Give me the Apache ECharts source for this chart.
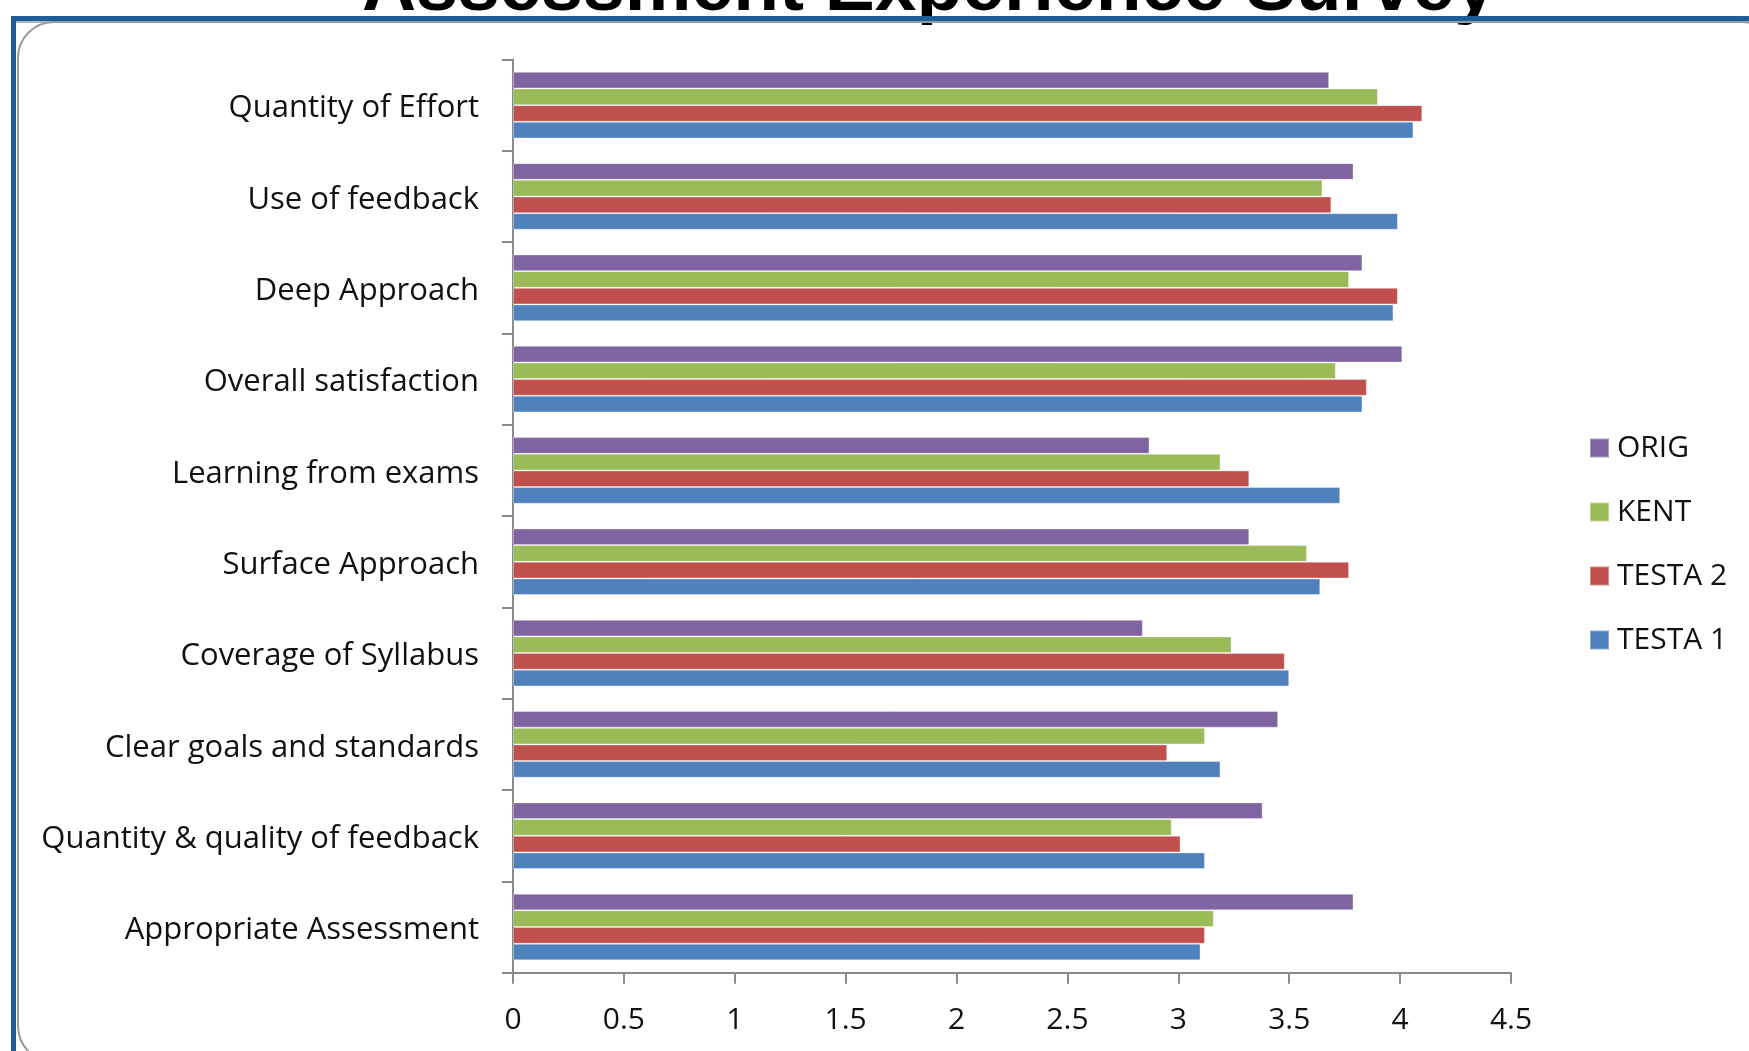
<!DOCTYPE html>
<html lang="en">
  <head>
    <meta charset="UTF-8" />
    <script src="https://cdn.jsdelivr.net/npm/echarts@6/dist/echarts.min.js"></script>
    <title>Assessment Experience Survey</title>
    <style>
      html, body { margin: 0; padding: 0; background: #fff; }
      #chart { width: 1749px; height: 1051px; }
    </style>
  </head>
  <body>
    <div id="chart"></div>
    <script>
      // categories, top to bottom
      const categories = [
        "Quantity of Effort",
        "Use of feedback",
        "Deep Approach",
        "Overall satisfaction",
        "Learning from exams",
        "Surface Approach",
        "Coverage of Syllabus",
        "Clear goals and standards",
        "Quantity & quality of feedback",
        "Appropriate Assessment"
      ];
      const orig   = [3.68, 3.79, 3.83, 4.01, 2.87, 3.32, 2.84, 3.45, 3.38, 3.79];
      const kent   = [3.90, 3.65, 3.77, 3.71, 3.19, 3.58, 3.24, 3.12, 2.97, 3.16];
      const testa2 = [4.10, 3.69, 3.99, 3.85, 3.32, 3.77, 3.48, 2.95, 3.01, 3.12];
      const testa1 = [4.06, 3.99, 3.97, 3.83, 3.73, 3.64, 3.50, 3.19, 3.12, 3.10];
      const seriesNames = ["ORIG", "KENT", "TESTA 2", "TESTA 1"];
      const seriesColors = ["#8064A2", "#9BBB59", "#C0504D", "#4F81BD"];

      const labelFont = "'Open Sans', sans-serif";
      const myChart = echarts.init(document.getElementById("chart"));

      function barSeries(name, data, color) {
        return {
          name: name,
          type: "bar",
          data: data,
          barGap: "0%",
          barCategoryGap: "27%",
          itemStyle: { color: color, borderColor: "rgba(255,255,255,0.35)", borderWidth: 1 },
          emphasis: { disabled: true }
        };
      }

      const option = {
        animation: false,
        backgroundColor: "#fff",
        color: seriesColors,
        graphic: [
          // slide frame
          { type: "rect", shape: { x: 11, y: 16, width: 1760, height: 5 }, style: { fill: "#1F5C9C" } },
          { type: "rect", shape: { x: 11, y: 16, width: 5, height: 1060 }, style: { fill: "#1F5C9C" } },
          { type: "rect", shape: { x: 16, y: 21, width: 1760, height: 2 }, style: { fill: "#b5b5b5" } },
          { type: "rect", shape: { x: 18, y: 22, width: 1760, height: 1040, r: 36 },
            style: { fill: "none", stroke: "#9a9a9a", lineWidth: 2 } },
          // title, cut off by the top of the picture
          { type: "text", x: 929, y: -11, z: -1,
            style: { text: "Assessment Experience Survey", fill: "#000",
              font: "bold 75px 'Liberation Sans', Arial, sans-serif",
              textAlign: "center", textVerticalAlign: "middle" } }
        ],
        legend: {
          orient: "vertical",
          left: 1584,
          top: 428,
          itemWidth: 19,
          itemHeight: 19,
          itemGap: 34,
          icon: "rect",
          data: seriesNames,
          textStyle: { fontFamily: labelFont, fontSize: 30, color: "#111", lineHeight: 30, padding: [0, 0, 0, 3] }
        },
        grid: { left: 513, right: 238, top: 59.5, bottom: 78.3, containLabel: false },
        xAxis: {
          type: "value",
          min: 0,
          max: 4.5,
          interval: 0.5,
          splitLine: { show: false },
          axisLine: { show: true, lineStyle: { color: "#8a8a8a", width: 2 } },
          axisTick: { show: true, length: 11, lineStyle: { color: "#8a8a8a", width: 2 } },
          axisLabel: { margin: 33, fontFamily: labelFont, fontSize: 30, color: "#111" }
        },
        yAxis: {
          type: "category",
          inverse: true,
          data: categories,
          axisLine: { show: true, lineStyle: { color: "#8a8a8a", width: 2 } },
          axisTick: { show: true, length: 11, lineStyle: { color: "#8a8a8a", width: 2 } },
          axisLabel: { margin: 34, fontFamily: labelFont, fontSize: 31, color: "#111",
            verticalAlign: "top", lineHeight: 7 }
        },
        series: [
          barSeries(seriesNames[0], orig, seriesColors[0]),
          barSeries(seriesNames[1], kent, seriesColors[1]),
          barSeries(seriesNames[2], testa2, seriesColors[2]),
          barSeries(seriesNames[3], testa1, seriesColors[3])
        ]
      };
      myChart.setOption(option);
    </script>
  </body>
</html>
